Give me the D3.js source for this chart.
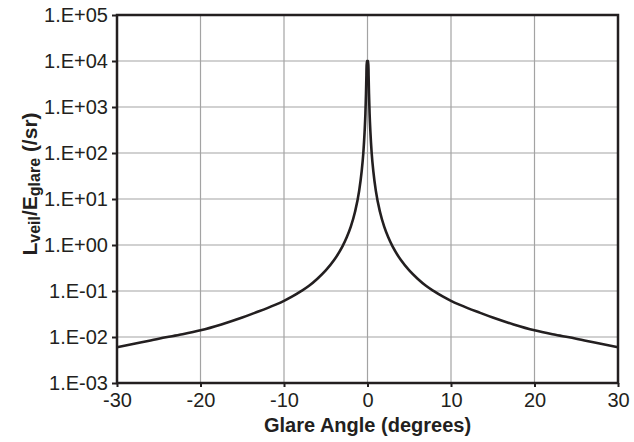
<!DOCTYPE html>
<meta charset="utf-8">
<script src="https://d3js.org/d3.v7.min.js"></script>
<style>
  body { margin: 0; background: #fff; }
  text { font-family: "Liberation Sans", Arial, sans-serif; fill: #231f20; }
</style>
<body>
<svg width="634" height="442"></svg>
<script>
    // glare angle (degrees) and veiling luminance ratio
    var angles = [-30, -27.5, -25, -22.5, -20, -17.5, -15, -13.5, -12, -11, -10, -9, -8, -7, -6, -5, -4, -3, -2.5, -2, -1.5, -1,
                  -0.7, -0.5, -0.35, -0.25, -0.18, -0.13, -0.1,
                  0.1, 0.13, 0.18, 0.25, 0.35, 0.5, 0.7,
                  1, 1.5, 2, 2.5, 3, 4, 5, 6, 7, 8, 9, 10, 11, 12, 13.5, 15, 17.5, 20, 22.5, 25, 27.5, 30];
    var ratio  = [0.0060, 0.0074, 0.0092, 0.0112, 0.0140, 0.0188, 0.0265, 0.0335, 0.0425, 0.0505, 0.061, 0.076, 0.098, 0.130, 0.185, 0.28, 0.47, 0.93, 1.45, 2.5, 5.2, 15,
                  40, 100, 280, 720, 1950, 4900, 10000,
                  10000, 4900, 1950, 720, 280, 100, 40,
                  15, 5.2, 2.5, 1.45, 0.93, 0.47, 0.28, 0.185, 0.130, 0.098, 0.076, 0.061, 0.0505, 0.0425, 0.0335, 0.0265, 0.0188, 0.0140, 0.0112, 0.0092, 0.0074, 0.0060];
    var xTicks = [-30, -20, -10, 0, 10, 20, 30];
    var yTicks = [1e-3, 1e-2, 1e-1, 1e0, 1e1, 1e2, 1e3, 1e4, 1e5];

    var svg = d3.select('svg');
    var plotLeft = 117, plotRight = 618, plotTop = 15, plotBottom = 383;
    var ink = '#231f20', gridColor = '#a3a3a3';

    var x = d3.scaleLinear().domain([-30, 30]).range([plotLeft, plotRight]);
    var y = d3.scaleLog().domain([1e-3, 1e5]).range([plotBottom, plotTop]);

    // "1.E+05" style labels
    function sciLabel(v) {
        var e = Math.round(Math.log10(v));
        return '1.E' + (e < 0 ? '-' : '+') + String(Math.abs(e)).padStart(2, '0');
    }

    // grid
    svg.append('g').selectAll('line').data(xTicks).enter().append('line')
        .attr('x1', function(d){ return x(d); }).attr('x2', function(d){ return x(d); })
        .attr('y1', plotTop).attr('y2', plotBottom)
        .attr('stroke', gridColor).attr('stroke-width', 1.2);
    svg.append('g').selectAll('line').data(yTicks).enter().append('line')
        .attr('x1', plotLeft).attr('x2', plotRight)
        .attr('y1', function(d){ return y(d); }).attr('y2', function(d){ return y(d); })
        .attr('stroke', gridColor).attr('stroke-width', 1.2);

    // axes
    var xAxis = svg.append('g').attr('transform', 'translate(0,' + plotBottom + ')')
        .call(d3.axisBottom(x).tickValues(xTicks).tickFormat(function(d){ return String(d); })
              .tickSize(4).tickPadding(6).tickSizeOuter(0));
    var yAxis = svg.append('g').attr('transform', 'translate(' + plotLeft + ',0)')
        .call(d3.axisLeft(y).tickValues(yTicks).tickFormat(sciLabel).tickSize(5).tickPadding(4).tickSizeOuter(0));

    [xAxis, yAxis].forEach(function(a){
        a.select('.domain').remove();
        a.selectAll('line').attr('stroke', ink).attr('stroke-width', 2);
        a.selectAll('text').attr('font-size', '20px').attr('fill', ink)
            .attr('font-family', '"Liberation Sans", Arial, sans-serif');
    });

    // frame
    svg.append('rect').attr('x', plotLeft).attr('y', plotTop)
        .attr('width', plotRight - plotLeft).attr('height', plotBottom - plotTop)
        .attr('fill', 'none').attr('stroke', ink).attr('stroke-width', 2.5);

    // curve
    var line = d3.line()
        .x(function(d, i){ return x(angles[i]); })
        .y(function(d){ return y(d); })
        .curve(d3.curveMonotoneX);
    svg.append('path').datum(ratio)
        .attr('d', line)
        .attr('fill', 'none').attr('stroke', ink).attr('stroke-width', 2.6)
        .attr('stroke-linejoin', 'miter');

    // axis titles
    svg.append('text').attr('x', (plotLeft + plotRight) / 2).attr('y', 432)
        .attr('text-anchor', 'middle').attr('font-size', '20px').attr('font-weight', 'bold')
        .text('Glare Angle (degrees)');

    var yt = svg.append('text').attr('transform', 'translate(37,184) rotate(-90)')
        .attr('text-anchor', 'middle').attr('font-size', '21px').attr('font-weight', 'bold');
    yt.append('tspan').text('L');
    yt.append('tspan').attr('font-size', '16px').attr('dy', 3).text('veil');
    yt.append('tspan').attr('dy', -3).text('/E');
    yt.append('tspan').attr('font-size', '16px').attr('dy', 3).text('glare');
    yt.append('tspan').attr('dy', -3).text(' (/sr)');
</script>
</body>
